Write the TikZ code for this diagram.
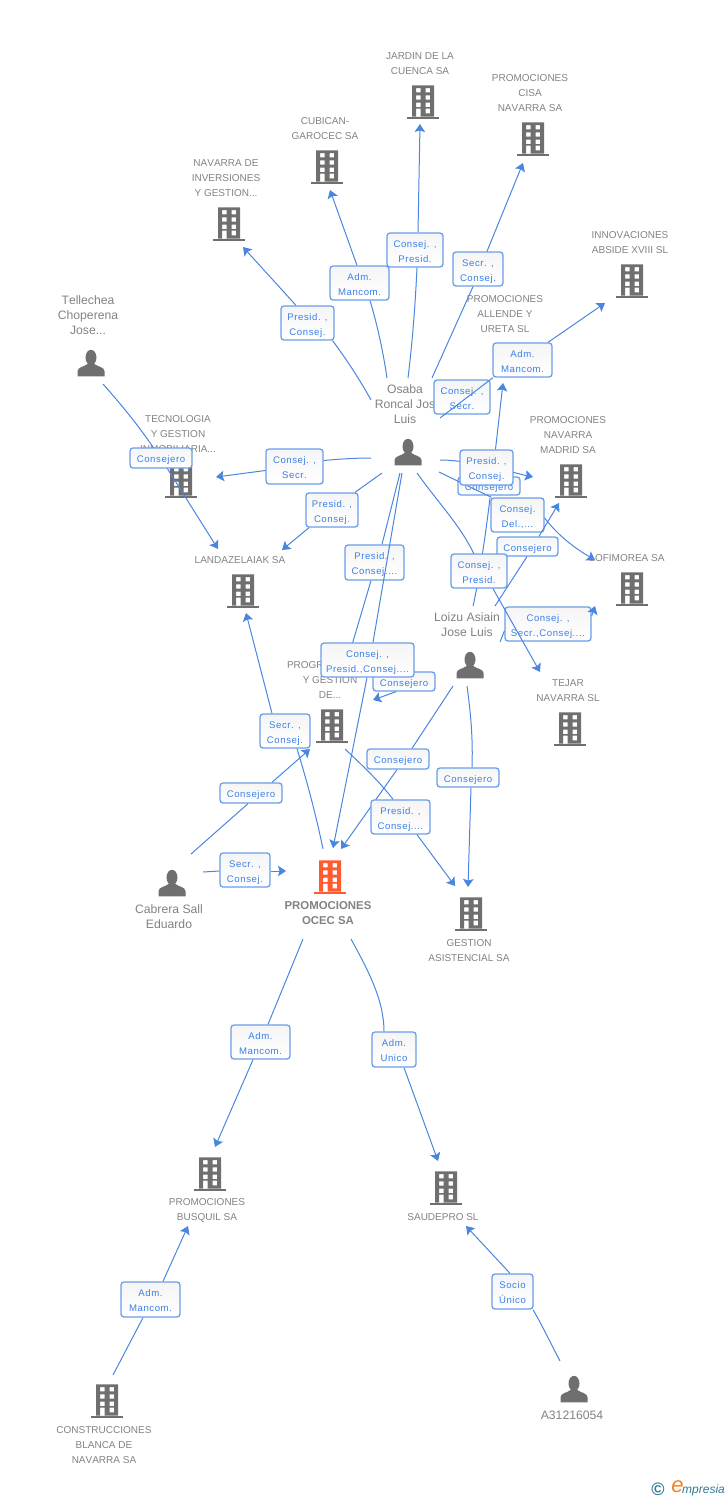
\documentclass[tikz,border=0pt]{standalone}
\usepackage{fontspec}
\setmainfont{Liberation Sans}[Kerning=Off]
\usetikzlibrary{arrows.meta,calc}
\definecolor{lineblue}{HTML}{4A86E0}
\definecolor{boxblue}{HTML}{6A9EE8}
\definecolor{labelblue}{HTML}{3B80E6}
\definecolor{icongray}{HTML}{6F6F6F}
\definecolor{textgray}{HTML}{828282}
\definecolor{mainorange}{HTML}{FF5A30}
\definecolor{logoteal}{HTML}{2F7A96}
\definecolor{logoorange}{HTML}{F58220}
\tikzset{
  conn/.style={draw=lineblue,line width=1pt},
  arr/.style={conn,-{Stealth[length=8pt,width=10.5pt,inset=1.5pt]}},
  lblbox/.style={draw=boxblue,line width=1.3pt,rounded corners=3pt,top color=black!4,bottom color=white,
    text=labelblue,align=center,inner sep=0pt,font=\fontsize{9.6}{15}\selectfont\addfontfeatures{LetterSpace=6}},
  iconnode/.style={inner sep=0pt,minimum size=28pt},
  ctxt/.style={text=textgray,align=center,inner sep=0pt,font=\fontsize{10}{15}\selectfont},
  ptxt/.style={text=textgray,align=center,inner sep=0pt,font=\fontsize{12.2}{15}\selectfont},
  bld/.pic={
    \fill[pic actions,even odd rule]
      (-11,-16.7) rectangle (11,14.5)
      (-7,-14) rectangle (-2.4,-9.7) (2.6,-14) rectangle (7.2,-9.7)
      (-7,-6.7) rectangle (-2.4,-2.3) (2.6,-6.7) rectangle (7.2,-2.3)
      (-7,0.7) rectangle (-2.4,5) (2.6,0.7) rectangle (7.2,5)
      (-7,6.7) rectangle (-2.4,14.5) (2.6,6.7) rectangle (7.2,11.3);
    \fill[pic actions] (-16,14.5) rectangle (16,16.7);
  },
  prs/.pic={
    \fill[pic actions] (0,-5.5) ellipse (5.5 and 7.7);
    \fill[pic actions] (-13.5,13.3) -- (-13.5,8) .. controls (-13.5,4) and (-6,3.5) .. (-3.5,1)
      -- (3.5,1) .. controls (6,3.5) and (13.5,4) .. (13.5,8) -- (13.5,13.3) -- cycle;
  }
}
\newcommand{\company}[6]{%
  \node[iconnode] (#1) at (#2,#3) {};
  \pic[icongray] at (#1) {bld};
  \node[ctxt] (#1T) at (#4,#5) {#6};}
\newcommand{\personn}[6]{%
  \node[iconnode] (#1) at (#2,#3) {};
  \pic[icongray] at (#1) {prs};
  \node[ptxt] (#1T) at (#4,#5) {#6};}
\newcommand{\lbl}[6]{%
  \pgfmathsetmacro{\cx}{(#2+#4)/2}\pgfmathsetmacro{\cy}{(#3+#5)/2}%
  \pgfmathsetmacro{\ww}{#4-#2}\pgfmathsetmacro{\hh}{#5-#3}%
  \node[lblbox,minimum width=\ww pt,minimum height=\hh pt] (#1) at (\cx,\cy) {\rule{0pt}{12pt}#6\rule[-3pt]{0pt}{3pt}};}
\begin{document}
\begin{tikzpicture}[x=1pt,y=-1pt]
\useasboundingbox (0,0) rectangle (728,1500);
% entities
\company{jardin}{423}{102}{420}{63.5}{JARDIN DE LA\\CUENCA SA}
\company{cisa}{533}{139}{530}{93}{PROMOCIONES\\CISA\\NAVARRA SA}
\company{cubican}{327}{167}{325}{129}{CUBICAN-\\GAROCEC SA}
\company{navarra}{229}{224}{226}{178}{NAVARRA DE\\INVERSIONES\\Y GESTION...}
\company{abside}{632}{281}{630}{243}{INNOVACIONES\\ABSIDE XVIII SL}
\node[ctxt] (allendeT) at (505,314) {PROMOCIONES\\ALLENDE Y\\URETA SL};
\personn{tellechea}{91}{363}{88}{315}{Tellechea\\Choperena\\Jose...}
\personn{osaba}{408}{452}{405}{404}{Osaba\\Roncal Jos\\Luis}
\company{tecno}{181}{481}{178}{434}{TECNOLOGIA\\Y GESTION\\INMOBILIARIA...}
\company{madrid}{571}{481}{568}{435}{PROMOCIONES\\NAVARRA\\MADRID SA}
\company{landa}{243}{591}{240}{560}{LANDAZELAIAK SA}
\company{lofi}{632}{589}{627}{558}{LOFIMOREA SA}
\company{prog}{332}{726}{330}{680}{\makebox[86pt][l]{PROGR}\\Y GESTION\\DE...}
\company{tejar}{570}{729}{568}{690.5}{TEJAR\\NAVARRA  SL}
\personn{loizu}{470}{665}{467}{624.5}{Loizu Asiain\\Jose Luis}
\personn{cabrera}{172}{883}{169}{916.5}{Cabrera Sall\\Eduardo}
\node[iconnode] (ocec) at (330,877) {};
\pic[mainorange] at (ocec) {bld};
\node[text=textgray,align=center,inner sep=0pt,font=\fontsize{11.4}{15}\selectfont\bfseries] (ocecT) at (328,913.5) {PROMOCIONES\\OCEC SA};
\company{gestion}{471}{914}{469}{950.5}{GESTION\\ASISTENCIAL SA}
\company{busquil}{210}{1174}{207}{1210.5}{PROMOCIONES\\BUSQUIL SA}
\company{saude}{446}{1188}{443}{1217}{SAUDEPRO SL}
\company{constr}{107}{1401}{104}{1445}{CONSTRUCCIONES\\BLANCA DE\\NAVARRA SA}
\personn{a31}{574}{1389}{572}{1415}{A31216054}
% free ends
\foreach \n/\p in {oJ/{408,378},oC/{387,378},oN/{371,400},oS/{432,378},oI/{440,418},oM/{440,460},
  oL/{439,472},oT/{417,473},oP/{400,473},oO/{402,473},oTe/{371,458},oLa/{382,473},
  jIn/{420,124},sIn/{523,163},cIn/{330,190},nIn/{243,247},aIn/{605,303},alIn/{503,383},
  mIn/{533,477},mIn2/{559,503},lIn/{595,560},lIn2/{595,606},tIn/{540,672},pEnd/{349,655},
  oIn/{333,848},oIn2/{341,849},oIn3/{286,871},laIn/{246,613},laIn2/{218,549},laIn3/{282,550},
  teIn/{216,477},pIn/{310,749},pIn2/{373,700},gIn/{455,886},gIn2/{468,887},
  buIn/{215,1147},buIn2/{188,1226},saIn/{438,1161},saIn2/{466,1226},
  lzA/{473,606},lzM/{495,606},lzS/{500,642},lzO/{453,686},lzG/{467,686},
  cbP/{191,854},cbO/{203,872},ocL/{323,849},ocB/{303,939},ocS/{351,939},prG/{345,749},
  teL/{103,384},coB/{113,1375},a3S/{560,1361}}
  {\coordinate (\n) at (\p);}
% Osaba upward
\lbl{lJ}{387}{233}{443}{267}{Consej. ,\\Presid.}
\draw[conn] (oJ) .. controls (412,345) and (415,310) .. ([xshift=2pt]lJ.south);
\draw[arr] ([xshift=3pt]lJ.north) -- (jIn);
\lbl{lC}{330}{266}{389}{300}{Adm.\\Mancom.}
\draw[conn] (oC) .. controls (383,350) and (376,320) .. ([xshift=10.5pt]lC.south);
\draw[arr] ([xshift=-2.5pt]lC.north) -- (cIn);
\lbl{lN}{281}{306}{334}{340}{Presid. ,\\Consej.}
\draw[conn] (oN) .. controls (360,380) and (345,357) .. ([xshift=25pt]lN.south);
\draw[arr] ([xshift=-11.5pt]lN.north) -- (nIn);
\lbl{lS}{453}{252}{503}{286}{Secr. ,\\Consej.}
\draw[conn] (oS) -- ([xshift=-5pt]lS.south);
\draw[arr] ([xshift=9pt]lS.north) -- (sIn);
\lbl{lAl}{434}{380}{490}{414}{Consej. ,\\Secr.}
\lbl{lI}{493}{343}{552}{377}{Adm.\\Mancom.}
\draw[conn] (oI) -- ([xshift=-29.5pt]lI.south);
\draw[arr] ([xshift=25.5pt]lI.north) -- (aIn);
% left
\lbl{lTe}{266}{449}{323}{484}{Consej. ,\\Secr.}
\draw[conn] (oTe) .. controls (355,458) and (340,459) .. ([yshift=6pt]lTe.east);
\draw[arr] ([yshift=-4pt]lTe.west) -- (teIn);
\lbl{lLa}{306}{493}{358}{527}{Presid. ,\\Consej.}
\draw[conn] (oLa) -- ([xshift=23pt]lLa.north);
\draw[arr] ([xshift=-23pt]lLa.south) -- (laIn3);
% Osaba/Loizu right side
\draw[arr] (oM) .. controls (470,460) and (510,472) .. (mIn);
\lbl{lM}{458}{477}{520}{495}{Consejero}
\draw[conn] (lzA) .. controls (478,585) and (485,540) .. (490,498);
\lbl{lDel}{491}{498}{544}{532}{Consej.\\Del.,...}
\draw[conn] (oL) -- ([xshift=-26pt]lDel.north);
\draw[arr] ([yshift=-3pt]lDel.east) .. controls (560,538) and (578,550) .. (lIn);
\lbl{lAll}{460}{450}{513}{485}{Presid. ,\\Consej.}
\draw[arr] ([xshift=9pt]lAll.north) -- (alIn);
\lbl{lM2}{497}{537}{558}{556}{Consejero}
\draw[conn] (lzM) -- ([xshift=-0.5pt]lM2.south);
\draw[arr] ([xshift=11.5pt]lM2.north) -- (mIn2);
\lbl{lLo}{505}{607}{591}{641}{Consej. ,\\Secr.,Consej....}
\draw[conn] (lzS) -- ([yshift=-7pt]lLo.west);
\draw[arr] ([yshift=8pt]lLo.east) -- (lIn2);
\draw[conn] (oT) .. controls (440,505) and (460,525) .. (474,554);
\lbl{lTj}{451}{554}{507}{588}{Consej. ,\\Presid.}
\draw[arr] ([xshift=14pt]lTj.south) -- (tIn);
% to Prog and Ocec
\lbl{lPr}{345}{545}{404}{580}{Presid. ,\\Consej....}
\draw[conn] (oP) -- ([xshift=7.5pt]lPr.north);
\draw[conn] ([xshift=-3.5pt]lPr.south) -- (pEnd);
\lbl{lPc}{373}{672}{435}{691}{Consejero}
\draw[arr] ([xshift=-8pt]lPc.south) -- (pIn2);
\lbl{lBig}{321}{643}{414}{677}{Consej. ,\\Presid.,Consej....}
\draw[conn] (oO) -- ([xshift=5.5pt]lBig.north);
\draw[arr] ([xshift=-0.5pt]lBig.south) -- (oIn);
\lbl{lLa2}{260}{714}{310}{748}{Secr. ,\\Consej.}
\draw[conn] (ocL) .. controls (315,810) and (305,775) .. ([xshift=12pt]lLa2.south);
\draw[arr] ([xshift=-13pt]lLa2.north) -- (laIn);
\lbl{lZo}{367}{749}{429}{769}{Consejero}
\draw[conn] (lzO) -- ([xshift=14pt]lZo.north);
\draw[arr] ([xshift=-1pt]lZo.south) -- (oIn2);
\lbl{lGe}{371}{800}{430}{834}{Presid. ,\\Consej....}
\draw[conn] (prG) .. controls (362,765) and (380,782) .. ([xshift=-7.5pt]lGe.north);
\draw[arr] ([xshift=16.5pt]lGe.south) -- (gIn);
\lbl{lGz}{437}{768}{499}{787}{Consejero}
\draw[conn] (lzG) .. controls (471,715) and (473,740) .. ([xshift=4pt]lGz.north);
\draw[arr] ([xshift=3pt]lGz.south) -- (gIn2);
\lbl{lCp}{220}{783}{282}{803}{Consejero}
\draw[conn] (cbP) -- ([xshift=-3pt]lCp.south);
\draw[arr] ([xshift=21pt]lCp.north) -- (pIn);
\lbl{lCo}{220}{853}{270}{887}{Secr. ,\\Consej.}
\draw[conn] (cbO) -- ([yshift=-1pt]lCo.west);
\draw[arr] ([yshift=-1pt]lCo.east) -- (oIn3);
% Tellechea
\draw[arr] (teL) .. controls (135,420) and (150,442) .. (167,468) -- (laIn2);
\lbl{lTl}{130}{448}{192}{468}{Consejero}
% bottom
\lbl{lBu}{231}{1025}{290}{1059}{Adm.\\Mancom.}
\draw[conn] (ocB) -- ([xshift=7.5pt]lBu.north);
\draw[arr] ([xshift=-7.5pt]lBu.south) -- (buIn);
\lbl{lSa}{372}{1032}{416}{1067}{Adm.\\Unico}
\draw[conn] (ocS) .. controls (368,970) and (384,1000) .. ([xshift=-10pt]lSa.north);
\draw[arr] ([xshift=10pt]lSa.south) -- (saIn);
\lbl{lCb}{121}{1282}{180}{1317}{Adm.\\Mancom.}
\draw[conn] (coB) -- ([xshift=-7.5pt]lCb.south);
\draw[arr] ([xshift=12.5pt]lCb.north) -- (buIn2);
\lbl{lUn}{492}{1274}{533}{1309}{Socio\\Único}
\draw[conn] (a3S) .. controls (550,1342) and (542,1325) .. ([xshift=20.5pt]lUn.south);
\draw[arr] ([xshift=-2.5pt]lUn.north) -- (saIn2);
% logo
\node[inner sep=0pt,text=logoteal,font=\fontsize{18}{18}\selectfont\bfseries] (logoC) at (658,1489) {©};
\node[inner sep=0pt,text=logoorange,font=\fontsize{22}{22}\selectfont\itshape] (logoE) at (677.5,1487) {e};
\node[inner sep=0pt,anchor=west,text=logoteal,font=\fontsize{12}{13}\selectfont\itshape] (logoT) at (682,1490) {mpresia};
\end{tikzpicture}
\end{document}
